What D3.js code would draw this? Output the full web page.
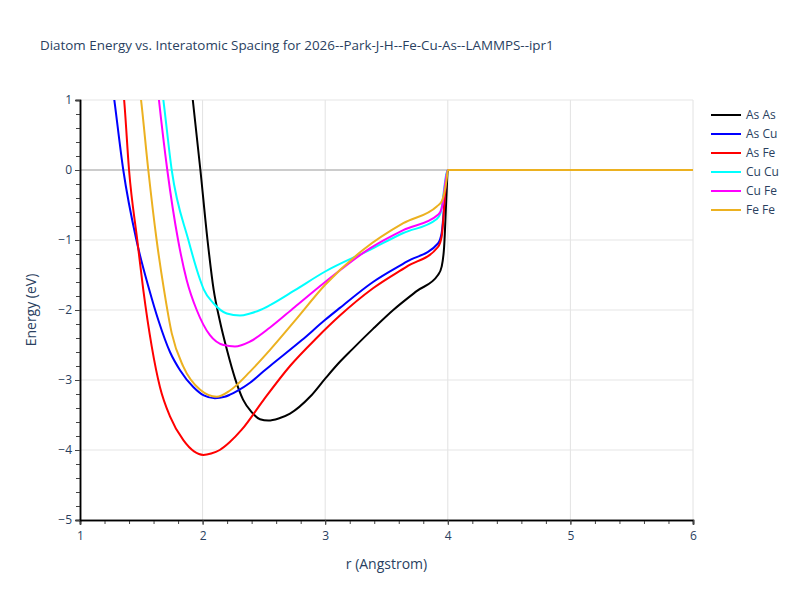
<!DOCTYPE html>
<html>
<head>
<meta charset="utf-8">
<script src="https://cdn.jsdelivr.net/npm/d3@7"></script>
<style>
  body { margin: 0; background: #fff; }
  text { font-family: "Open Sans", "DejaVu Sans", Arial, sans-serif; fill: #2a3f5f; }
</style>
</head>
<body>
<div id="chart"></div>
<script>
// values
const seriesNames = ["As As", "As Cu", "As Fe", "Cu Cu", "Cu Fe", "Fe Fe"];
const seriesColors = ["#000000", "#0000ff", "#ff0000", "#00ffff", "#ff00ff", "#ecb120"];

const rAsAs = [1.90, 1.92, 1.982, 2.04, 2.09, 2.14, 2.20, 2.265, 2.33, 2.40, 2.468, 2.536, 2.62, 2.713, 2.876, 3.0, 3.12, 3.216, 3.39, 3.555, 3.746, 3.92, 3.95, 3.97, 3.99, 4.0, 6.0];
const eAsAs = [1.3, 1.0, 0, -1.0, -1.71, -2.15, -2.58, -2.98, -3.28, -3.46, -3.56, -3.58, -3.55, -3.48, -3.24, -2.98, -2.74, -2.57, -2.27, -2.00, -1.73, -1.50, -1.38, -1.10, -0.33, 0, 0];

const rAsCu = [1.25, 1.28, 1.353, 1.46, 1.565, 1.64, 1.734, 1.816, 1.924, 2.01, 2.10, 2.18, 2.223, 2.28, 2.387, 2.495, 2.55, 2.81, 3.0, 3.12, 3.39, 3.665, 3.92, 3.95, 4.0, 6.0];
const eAsCu = [1.4, 1.0, 0, -1.0, -1.71, -2.15, -2.60, -2.86, -3.10, -3.22, -3.26, -3.24, -3.21, -3.16, -3.04, -2.88, -2.80, -2.43, -2.14, -1.97, -1.60, -1.31, -1.05, -0.90, 0, 0];

const rAsFe = [1.33, 1.36, 1.40, 1.467, 1.516, 1.585, 1.652, 1.734, 1.843, 1.93, 2.006, 2.07, 2.14, 2.22, 2.319, 2.495, 2.713, 2.93, 3.12, 3.39, 3.665, 3.92, 3.95, 4.0, 6.0];
const eAsFe = [1.5, 1.0, 0, -1.0, -1.71, -2.52, -3.10, -3.52, -3.86, -4.02, -4.07, -4.05, -4.0, -3.89, -3.71, -3.29, -2.80, -2.40, -2.08, -1.69, -1.38, -1.10, -0.95, 0, 0];

const rCuCu = [1.65, 1.68, 1.748, 1.884, 1.98, 2.01, 2.087, 2.197, 2.305, 2.387, 2.47, 2.55, 2.75, 3.0, 3.365, 3.637, 3.91, 3.94, 4.0, 6.0];
const eCuCu = [1.4, 1.0, 0, -1.0, -1.57, -1.71, -1.90, -2.05, -2.08, -2.05, -2.0, -1.93, -1.72, -1.45, -1.14, -0.90, -0.70, -0.62, 0, 0];

const rCuFe = [1.62, 1.644, 1.712, 1.80, 1.87, 1.952, 2.06, 2.17, 2.264, 2.387, 2.55, 2.75, 3.0, 3.365, 3.637, 3.92, 3.95, 4.0, 6.0];
const eCuFe = [1.4, 1.0, 0, -1.0, -1.57, -2.0, -2.36, -2.5, -2.52, -2.45, -2.25, -1.96, -1.60, -1.12, -0.86, -0.64, -0.55, 0, 0];

const rFeFe = [1.47, 1.498, 1.557, 1.625, 1.685, 1.748, 1.843, 1.98, 2.115, 2.223, 2.387, 2.55, 2.75, 3.0, 3.31, 3.637, 3.91, 3.95, 3.99, 4.0, 6.0];
const eFeFe = [1.4, 1.0, 0, -1.0, -1.71, -2.33, -2.81, -3.14, -3.24, -3.15, -2.88, -2.57, -2.16, -1.64, -1.14, -0.76, -0.52, -0.45, -0.14, 0, 0];

const xTicks = [1, 2, 3, 4, 5, 6];
const yTicks = [1, 0, -1, -2, -3, -4, -5];

const rs = [rAsAs, rAsCu, rAsFe, rCuCu, rCuFe, rFeFe];
const es = [eAsAs, eAsCu, eAsFe, eCuCu, eCuFe, eFeFe];
const series = seriesNames.map((name, i) => ({
    name,
    color: seriesColors[i],
    points: rs[i].map((r, j) => ({ r, e: es[i][j] }))
}));

const width = 800;
const height = 600;
const margin = { top: 100, right: 107, bottom: 80, left: 80 };
const innerW = width - margin.left - margin.right;
const innerH = height - margin.top - margin.bottom;

const svg = d3.select("#chart")
    .append("svg")
    .attr("width", width)
    .attr("height", height);

const g = svg.append("g")
    .attr("transform", `translate(${margin.left},${margin.top})`);

const xScale = d3.scaleLinear().domain([1, 6]).range([0, innerW]);
const yScale = d3.scaleLinear().domain([-5, 1]).range([innerH, 0]);

// grid
g.append("g")
    .selectAll("line")
    .data(xTicks.slice(1))
    .enter()
    .append("line")
    .attr("x1", d => xScale(d))
    .attr("x2", d => xScale(d))
    .attr("y1", 0)
    .attr("y2", innerH)
    .attr("stroke", "#e2e2e2")
    .attr("stroke-width", 1);

g.append("g")
    .selectAll("line")
    .data(yTicks.slice(0, -1))
    .enter()
    .append("line")
    .attr("x1", 0)
    .attr("x2", innerW)
    .attr("y1", d => yScale(d))
    .attr("y2", d => yScale(d))
    .attr("stroke", d => d === 0 ? "#cccccc" : "#e5e5e5")
    .attr("stroke-width", d => d === 0 ? 2 : 1);

// lines
g.append("clipPath")
    .attr("id", "clip")
    .append("rect")
    .attr("width", innerW)
    .attr("height", innerH);

const line = d3.line()
    .x(d => xScale(d.r))
    .y(d => yScale(d.e))
    .curve(d3.curveMonotoneX);

g.append("g")
    .attr("clip-path", "url(#clip)")
    .selectAll("path")
    .data(series)
    .enter()
    .append("path")
    .attr("d", d => line(d.points))
    .attr("fill", "none")
    .attr("stroke", d => d.color)
    .attr("stroke-width", 2);

// axes
const xAxis = g.append("g")
    .attr("transform", `translate(0,${innerH})`)
    .call(d3.axisBottom(xScale).tickValues(d3.range(1, 6.01, 0.2)).tickSize(4).tickFormat(""));
const xLabels = g.append("g")
    .attr("transform", `translate(0,${innerH})`)
    .call(d3.axisBottom(xScale).tickValues(xTicks).tickSize(5).tickPadding(6).tickFormat(d3.format("d")));

const yAxis = g.append("g")
    .call(d3.axisLeft(yScale).tickValues(d3.range(-5, 1.01, 0.2)).tickSize(4).tickFormat(""));
const yLabels = g.append("g")
    .call(d3.axisLeft(yScale).tickValues(yTicks).tickSize(5).tickPadding(3).tickFormat(d => d < 0 ? "\u2212" + Math.abs(d) : d));

[xAxis, xLabels, yAxis, yLabels].forEach(a => {
    a.selectAll(".domain").attr("stroke", "#000").attr("stroke-width", 1.5);
    a.selectAll(".tick line").attr("stroke", "#444");
    a.selectAll("text").attr("font-size", "12px").style("fill", "#2a3f5f");
});

// titles
svg.append("text")
    .attr("x", 40)
    .attr("y", 50)
    .attr("font-size", "13.4px")
    .text("Diatom Energy vs. Interatomic Spacing for 2026--Park-J-H--Fe-Cu-As--LAMMPS--ipr1");

svg.append("text")
    .attr("x", margin.left + innerW / 2)
    .attr("y", 569)
    .attr("text-anchor", "middle")
    .attr("font-size", "14px")
    .text("r (Angstrom)");

svg.append("text")
    .attr("transform", `translate(36,${margin.top + innerH / 2}) rotate(-90)`)
    .attr("text-anchor", "middle")
    .attr("font-size", "14px")
    .text("Energy (eV)");

// legend
const legend = svg.append("g")
    .selectAll("g")
    .data(series)
    .enter()
    .append("g")
    .attr("transform", (d, i) => `translate(711,${115 + i * 19})`);

legend.append("line")
    .attr("x1", 0)
    .attr("x2", 30)
    .attr("stroke", d => d.color)
    .attr("stroke-width", 2);

legend.append("text")
    .attr("x", 35)
    .attr("dy", "0.35em")
    .attr("font-size", "12px")
    .text(d => d.name);
</script>
</body>
</html>
